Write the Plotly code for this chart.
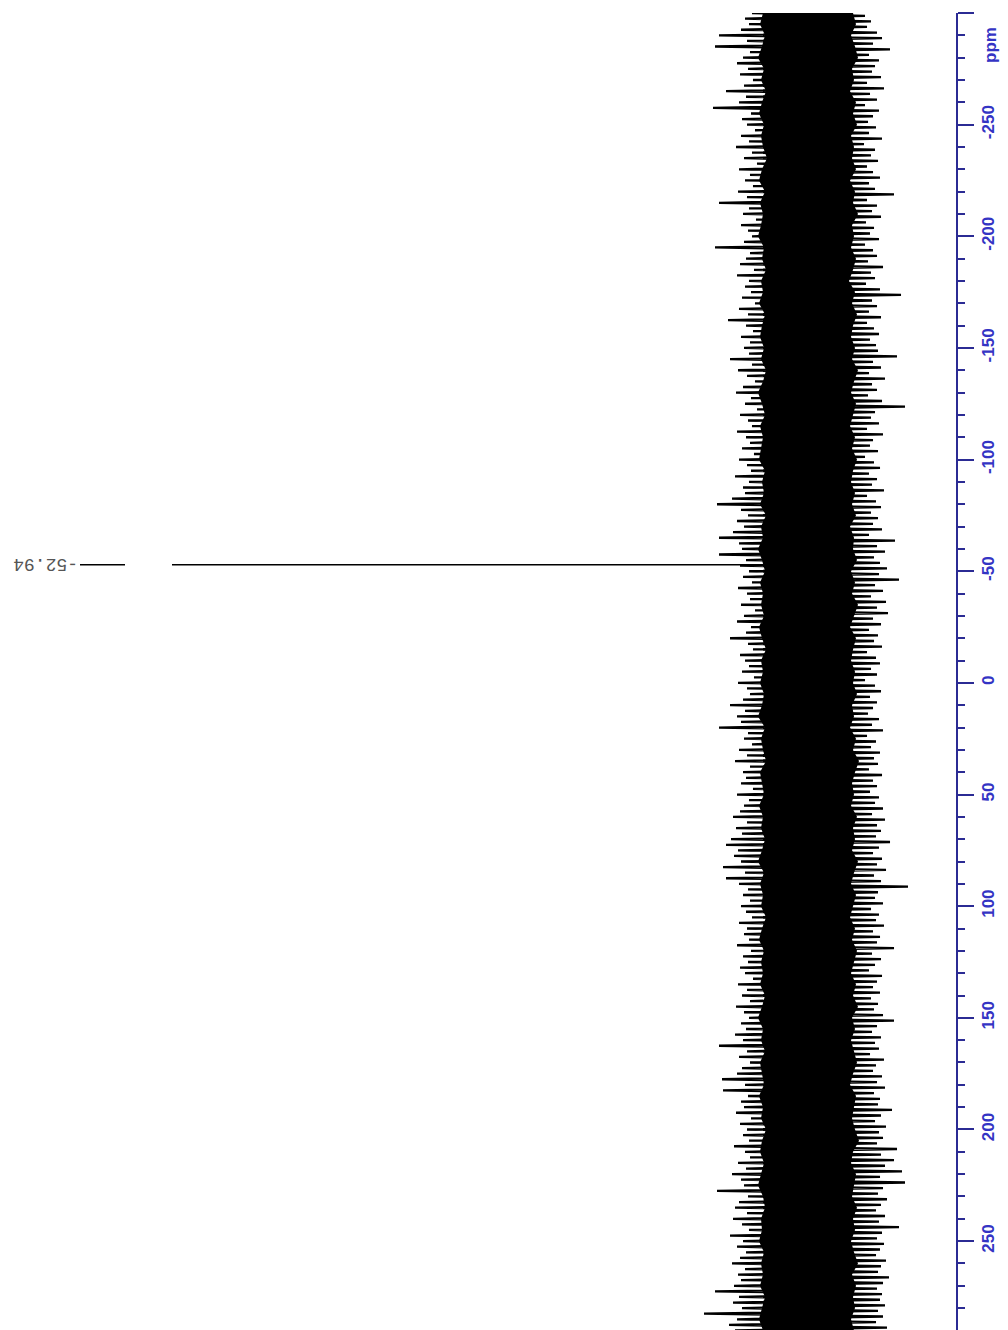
import numpy as np
import plotly.graph_objects as go

# ---------------- data ----------------
# chemical-shift sampling grid (ppm)
ppm_start = -300.0
ppm_step = 2.5
n_pts = 237

# positive-going noise extremes (intensity, a.u.)
noise_up = [
    55, 62, 58, 66, 88, 60, 92, 57, 64, 70,
    59, 67, 54, 63, 81, 61, 68, 94, 56, 65,
    60, 52, 66, 58, 71, 55, 63, 50, 68, 57,
    62, 54, 69, 60, 88, 58, 64, 51, 66, 59,
    55, 63, 92, 57, 61, 67, 53, 70, 58, 62,
    56, 65, 52, 68, 59, 79, 61, 54, 66, 57,
    63, 58, 77, 55, 69, 60, 52, 64, 71, 56,
    62, 50, 67, 59, 55, 70, 61, 57, 65, 53,
    68, 60, 56, 72, 58, 64, 62, 75, 90, 66,
    59, 70, 63, 74, 88, 68, 65, 88, 61, 67,
    58, 64, 55, 69, 60, 57, 66, 52, 63, 70,
    56, 61, 77, 59, 54, 67, 62, 58, 65, 53,
    69, 60, 57, 64, 77, 62, 70, 66, 88, 59,
    63, 55, 68, 60, 72, 57, 64, 61, 66, 54,
    70, 58, 63, 67, 74, 60, 71, 65, 76, 81,
    69, 73, 66, 84, 62, 81, 68, 59, 64, 57,
    66, 61, 55, 68, 60, 63, 58, 70, 56, 64,
    59, 67, 62, 54, 69, 60, 65, 57, 71, 63,
    58, 66, 61, 72, 64, 88, 60, 68, 57, 65,
    70, 85, 62, 84, 59, 66, 63, 71, 56, 67,
    60, 64, 58, 73, 62, 57, 69, 61, 75, 66,
    63, 90, 59, 68, 72, 60, 74, 65, 58, 77,
    64, 70, 61, 67, 75, 62, 69, 66, 73, 92,
    68, 74, 65, 103, 70, 78, 72,
]

# negative-going noise extremes (intensity, a.u.)
noise_down = [
    -58, -64, -60, -70, -75, -66, -83, -62, -72, -68,
    -65, -74, -60, -77, -63, -70, -58, -72, -66, -61,
    -69, -62, -75, -57, -68, -64, -71, -60, -66, -73,
    -62, -68, -87, -60, -70, -65, -74, -59, -67, -63,
    -72, -58, -66, -70, -61, -76, -64, -68, -59, -73,
    -94, -65, -70, -62, -74, -60, -67, -72, -63, -69,
    -71, -90, -66, -74, -62, -78, -65, -70, -61, -75,
    -98, -68, -64, -72, -60, -76, -66, -63, -71, -58,
    -67, -73, -62, -70, -65, -77, -60, -69, -74, -64,
    -71, -66, -75, -62, -88, -70, -78, -67, -73, -80,
    -72, -92, -68, -76, -64, -79, -70, -81, -66, -74,
    -62, -71, -67, -75, -60, -69, -73, -64, -70, -58,
    -68, -74, -63, -70, -66, -61, -72, -65, -76, -60,
    -69, -64, -73, -67, -71, -62, -75, -66, -70, -63,
    -72, -68, -76, -65, -78, -70, -74, -69, -83, -72,
    -66, -75, -70, -79, -67, -74, -101, -71, -68, -76,
    -64, -72, -69, -77, -66, -73, -70, -87, -65, -74,
    -68, -62, -75, -70, -66, -73, -64, -71, -67, -76,
    -87, -70, -65, -74, -68, -72, -63, -77, -69, -66,
    -75, -70, -78, -67, -73, -71, -85, -74, -68, -79,
    -72, -76, -70, -90, -74, -87, -78, -95, -73, -98,
    -76, -71, -80, -74, -69, -78, -72, -92, -75, -70,
    -77, -73, -69, -79, -74, -71, -82, -76, -70, -75,
    -73, -78, -71, -76, -69, -80, -74,
]

# dense (solid) noise core envelope, every 5 ppm
core_step = 5.0
core_up = [
    44, 47, 42, 45, 49, 43, 46, 41, 45, 48,
    43, 46, 44, 40, 45, 48, 42, 47, 44, 46,
    49, 43, 45, 41, 46, 44, 48, 42, 45, 47,
    43, 46, 41, 44, 49, 45, 42, 47, 44, 46,
    48, 42, 45, 43, 47, 41, 46, 44, 49, 45,
    42, 47, 44, 46, 43, 48, 45, 41, 46, 44,
    47, 43, 45, 49, 42, 46, 44, 41, 47, 45,
    43, 48, 44, 46, 42, 45, 49, 43, 47, 44,
    46, 41, 45, 48, 43, 46, 44, 47, 42, 45,
    49, 44, 46, 42, 47, 45, 43, 48, 44, 46,
    41, 45, 47, 43, 46, 49, 44, 42, 46, 45,
    48, 43, 46, 44, 47, 42, 45, 48, 44,
]
core_down = [
    -46, -49, -44, -48, -51, -45, -47, -43, -49, -46,
    -50, -44, -47, -45, -49, -43, -48, -46, -51, -45,
    -47, -44, -49, -46, -42, -48, -45, -50, -46, -44,
    -48, -45, -51, -47, -44, -49, -46, -43, -48, -45,
    -50, -46, -44, -48, -45, -49, -43, -47, -46, -50,
    -44, -48, -45, -51, -47, -43, -49, -46, -44, -48,
    -46, -50, -45, -47, -43, -49, -46, -52, -48, -45,
    -47, -44, -50, -46, -48, -45, -51, -47, -44, -49,
    -46, -43, -48, -45, -50, -47, -44, -49, -46, -51,
    -45, -48, -44, -47, -50, -46, -43, -49, -47, -45,
    -48, -52, -46, -44, -49, -47, -45, -50, -46, -48,
    -44, -47, -51, -45, -49, -46, -48, -44, -47,
]

# the single resolved peak
peak_ppm = [-52.94]
peak_height = [635]
peak_labels = ["-52.94"]

# axis ticks (ppm)
tick_vals = [-300, -250, -200, -150, -100, -50, 0, 50, 100, 150, 200, 250]
tick_text = ["", "-250", "-200", "-150", "-100", "-50", "0", "50", "100", "150", "200", "250"]

# ---------------- build traces ----------------
ppm_up = ppm_start + ppm_step * np.arange(n_pts)
ppm_down = ppm_up + ppm_step / 2
pts = list(zip(ppm_up, noise_up)) + list(zip(ppm_down, noise_down))
pts.sort(key=lambda p: p[0])
spec_ppm = [p[0] for p in pts]
spec_int = [p[1] for p in pts]

core_ppm = ppm_start + core_step * np.arange(len(core_up))
poly_ppm = list(core_ppm) + list(core_ppm[::-1])
poly_int = list(core_up) + list(core_down[::-1])

fig = go.Figure()
fig.add_trace(go.Scatter(x=poly_int, y=poly_ppm, mode="lines", fill="toself",
                         fillcolor="black", line=dict(width=0, color="black"),
                         hoverinfo="skip", showlegend=False))
fig.add_trace(go.Scatter(x=spec_int, y=spec_ppm, mode="lines",
                         line=dict(color="black", width=2.3),
                         showlegend=False))
# peak stick(s)
stick_x, stick_y = [], []
for p, h in zip(peak_ppm, peak_height):
    stick_x += [0, h, None]
    stick_y += [p, p, None]
fig.add_trace(go.Scatter(x=stick_x, y=stick_y, mode="lines",
                         line=dict(color="black", width=1.5), showlegend=False))

# ---------------- layout ----------------
# page body has an 8 px margin, so the figure is 8 px smaller than the window
W, H = 1000, 1322
ML, MR, MT, MB = 0, 52, 5, 0
plot_w = W - ML - MR
plot_h = H - MT - MB
axis_col = "#2b2b94"
label_col = "#3434c4"

fig.update_layout(
    width=W, height=H,
    margin=dict(l=ML, r=MR, t=MT, b=MB, autoexpand=False),
    paper_bgcolor="white", plot_bgcolor="white",
    showlegend=False,
    xaxis=dict(visible=False, range=[799, -149], fixedrange=True),
    yaxis=dict(
        range=[289.8, -300], side="right",
        showgrid=False, zeroline=False,
        showline=True, linecolor=axis_col, linewidth=2,
        ticks="outside", ticklen=16, tickwidth=2, tickcolor=axis_col,
        tickvals=tick_vals, ticktext=tick_text, tickangle=-90,
        tickfont=dict(family="Liberation Sans, Arial", size=17, color=label_col, weight="bold"),
        minor=dict(dtick=10, tick0=0, ticks="outside", ticklen=7, tickwidth=2, tickcolor=axis_col),
        automargin=False,
    ),
)

# axis unit label
fig.add_annotation(text="ppm", xref="paper", yref="paper", x=(982 - ML) / plot_w,
                   y=1 - (37 - MT) / plot_h, xanchor="center", yanchor="middle",
                   textangle=-90, showarrow=False,
                   font=dict(family="Liberation Sans, Arial", size=17, color=label_col, weight="bold"))

# peak label (rotated with the spectrum) and its leader line
for p, lab in zip(peak_ppm, peak_labels):
    fig.add_annotation(text=lab, xref="paper", yref="y", x=(38 - ML) / plot_w, y=p,
                       xanchor="center", yanchor="middle",
                       textangle=180, showarrow=False,
                       font=dict(family="Liberation Mono, Courier New", size=18, color="#555555"))
    fig.add_shape(type="line", xref="paper", yref="y", x0=(72 - ML) / plot_w, x1=(117 - ML) / plot_w,
                  y0=p, y1=p, line=dict(color="black", width=1.5))

fig.write_html("out.html")
